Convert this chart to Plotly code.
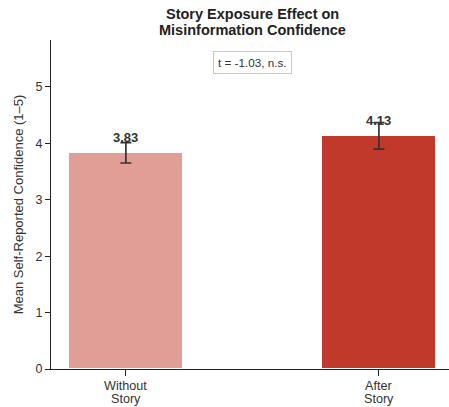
import plotly.graph_objects as go

# Condition means and standard errors
conditions = [["Without", "Story"], ["After", "Story"]]
means = [3.83, 4.13]
errors = [0.18, 0.235]
value_labels = ["3.83", "4.13"]
bar_colors = ["#e09e96", "#c0392b"]
t_label = "t = -1.03, n.s."
title_lines = ["Story Exposure Effect on", "Misinformation Confidence"]
y_title = "Mean Self-Reported Confidence (1–5)"

FONT = "Liberation Sans, Arial, sans-serif"
xpos = list(range(len(conditions)))

fig = go.Figure()
fig.add_trace(go.Bar(
    x=xpos, y=means, width=0.45,
    marker=dict(color=bar_colors, line=dict(color="white", width=1)),
    error_y=dict(type="data", array=errors, visible=True,
                 color="#333333", thickness=1.7, width=5.5),
    hoverinfo="skip", showlegend=False,
))

# Value labels above each bar
for x, m, lab in zip(xpos, means, value_labels):
    fig.add_annotation(x=x, y=m + 0.1, xref="x", yref="y", text=f"<b>{lab}</b>",
                       showarrow=False, yanchor="bottom",
                       font=dict(family=FONT, size=13, color="#333333"))

# Category labels under the x axis, two tightly spaced lines each
for x, lines in zip(xpos, conditions):
    for yy, word in zip([-0.0502, -0.0927], lines):
        fig.add_annotation(x=x, y=yy, xref="x", yref="paper", text=word,
                           showarrow=False, yanchor="middle",
                           font=dict(family=FONT, size=12.6, color="#333333"))

# Test statistic box
fig.add_annotation(x=0.5, y=5.43, xref="x", yref="y", text=t_label,
                   showarrow=False, yanchor="middle",
                   font=dict(family=FONT, size=11.7, color="#333333"),
                   bgcolor="white", bordercolor="#c8c8c8", borderwidth=1,
                   borderpad=4)

# Two-line bold title, each line placed separately for tight spacing
for yy, line in zip([1.0781, 1.0289], title_lines):
    fig.add_annotation(x=0.5, y=yy, xref="x", yref="paper",
                       text=f"<b>{line}</b>", showarrow=False, yanchor="middle",
                       font=dict(family=FONT, size=14.5, color="#222222"))

fig.update_layout(
    width=449, height=407,
    margin=dict(l=51, r=0, t=40, b=38),
    plot_bgcolor="white", paper_bgcolor="white",
    font=dict(family=FONT, size=12, color="#333333"),
    bargap=0,
)
fig.update_xaxes(
    range=[-0.296, 1.277], tickvals=xpos, showticklabels=False,
    showline=True, linecolor="#222222", linewidth=1.2,
    ticks="outside", ticklen=6, tickcolor="#222222", tickwidth=1.2,
    showgrid=False, zeroline=False, automargin=False,
)
fig.update_yaxes(
    range=[0, 5.83], tickvals=[0, 1, 2, 3, 4, 5],
    showline=True, linecolor="#222222", linewidth=1.2,
    ticks="outside", ticklen=5, tickcolor="#222222", tickwidth=1.2,
    showgrid=False, zeroline=False, automargin=False,
    title=dict(text=y_title, font=dict(family=FONT, size=13, color="#333333"), standoff=8),
    tickfont=dict(family=FONT, size=12.5, color="#333333"),
)

fig.write_html("out.html")
